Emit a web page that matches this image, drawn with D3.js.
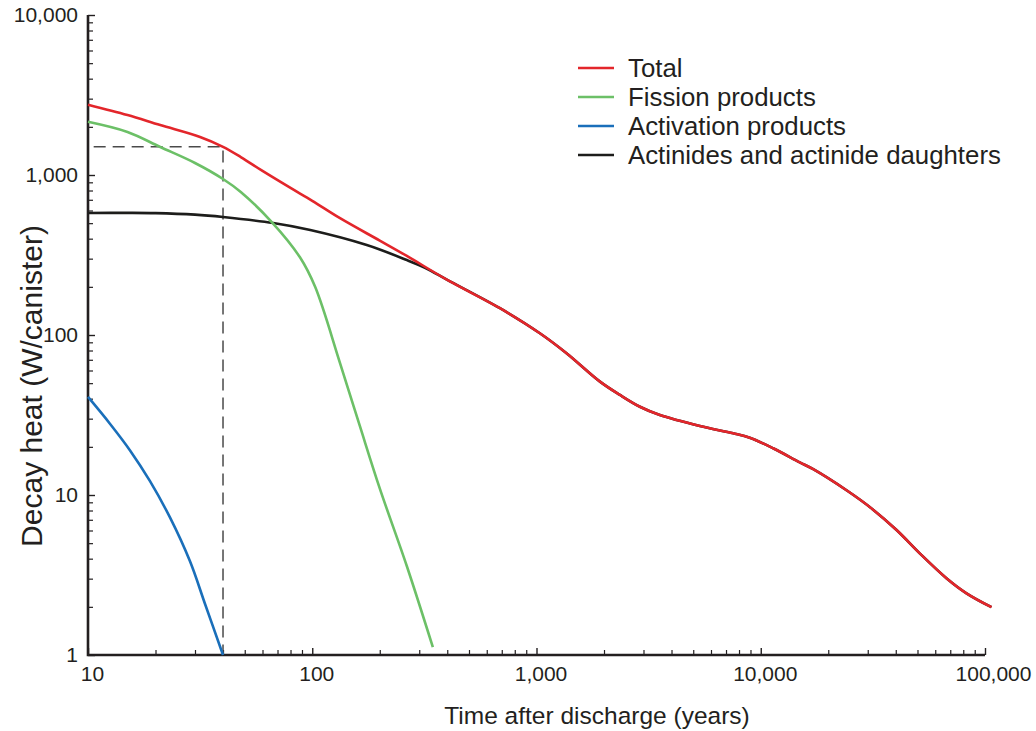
<!DOCTYPE html>
<html>
<head>
<meta charset="utf-8">
<script src="https://cdn.jsdelivr.net/npm/d3@7/dist/d3.min.js"></script>
<style>
  html, body { margin: 0; padding: 0; background: #fff; }
  svg { display: block; font-family: "Liberation Sans", Arial, Helvetica, sans-serif; }
</style>
</head>
<body>
<svg id="chart" width="1036" height="731"></svg>
<script>
// Decay heat per canister after discharge (log-log)
const totalYears   = [10, 15, 21, 31.6, 40, 48, 60, 80, 100, 133, 200, 264, 400, 687, 1035, 1361, 1919, 2355, 2892, 3549, 5352, 7534, 8930, 11350, 14930, 17140, 24130, 31700, 40330, 51170, 67300, 82700, 106900];
const totalHeat    = [2750, 2370, 2050, 1730, 1500, 1295, 1060, 830, 690, 537, 389, 312, 221, 147, 102.5, 76.9, 51.1, 42.2, 35.6, 31.6, 27.0, 24.3, 22.8, 19.6, 16.0, 14.5, 10.7, 8.1, 6.04, 4.32, 3.02, 2.43, 1.99];

const fissionYears = [10, 15, 21, 30, 40, 48, 66, 88, 103, 133, 163, 200, 264, 345];
const fissionHeat  = [2150, 1857, 1496, 1189, 944, 783, 508, 307, 200, 66.8, 27, 11, 3.6, 1.12];

const activationYears = [10, 12.5, 15.4, 18.9, 23.2, 28.5, 33.2, 40];
const activationHeat  = [41, 28, 19, 12.2, 7.24, 3.85, 2.1, 1];

const actinideYears = [10, 15, 20, 30, 40, 67, 98, 175, 264, 320, 400, 687, 1035, 1361, 1919, 2355, 2892, 3549, 5352, 7534, 8930, 11350, 14930, 17140, 24130, 31700, 40330, 51170, 67300, 82700, 106900];
const actinideHeat  = [579, 580, 578, 565, 546, 501, 453, 365, 294, 262, 221, 147, 102.5, 76.9, 51.1, 42.2, 35.6, 31.6, 27.0, 24.3, 22.8, 19.6, 16.0, 14.5, 10.7, 8.1, 6.04, 4.32, 3.02, 2.43, 1.99];

// Reference marker: ~1,500 W at 40 years
const markerYear = 40;
const markerHeat = 1500;

const xMajorTicks = [10, 100, 1000, 10000, 100000];
const yMajorTicks = [1, 10, 100, 1000, 10000];

const seriesNames  = ["Total", "Fission products", "Activation products", "Actinides and actinide daughters"];
const seriesColors = ["#e3262b", "#6cc067", "#1a6fba", "#1d1d1b"];

const svg = d3.select("#chart");
const x = d3.scaleLog().domain([10, 100000]).range([88, 985]);
const y = d3.scaleLog().domain([1, 10000]).range([655, 15]);

const minorOf = (majors) => {
  const out = [];
  for (let i = 0; i < majors.length - 1; i++)
    for (let k = 2; k <= 9; k++) out.push(majors[i] * k);
  return out;
};

const textColor = "#231f20";

// Minor ticks (inside)
svg.append("g").attr("transform", "translate(0,655)")
  .call(d3.axisBottom(x).tickValues(minorOf(xMajorTicks)).tickSize(-5).tickSizeOuter(0).tickFormat(""))
  .call(g => g.select(".domain").remove())
  .call(g => g.selectAll("line").attr("stroke", textColor).attr("stroke-width", 1.2));
svg.append("g").attr("transform", "translate(88,0)")
  .call(d3.axisLeft(y).tickValues(minorOf(yMajorTicks)).tickSize(-5).tickSizeOuter(0).tickFormat(""))
  .call(g => g.select(".domain").remove())
  .call(g => g.selectAll("line").attr("stroke", textColor).attr("stroke-width", 1.2));

// Major ticks and labels
const fmt = d3.format(",");
const xAxis = svg.append("g").attr("transform", "translate(0,655)")
  .call(d3.axisBottom(x).tickValues(xMajorTicks).tickSize(-7).tickSizeOuter(0).tickPadding(11).tickFormat(fmt));
xAxis.select(".domain").remove();
xAxis.selectAll("line").attr("stroke", textColor).attr("stroke-width", 1.4);
xAxis.selectAll("text").attr("font-size", 21).attr("fill", textColor)
  .attr("dx", d => d === 100000 ? 8 : 4);

const yAxis = svg.append("g").attr("transform", "translate(88,0)")
  .call(d3.axisLeft(y).tickValues(yMajorTicks).tickSize(-7).tickSizeOuter(0).tickPadding(10).tickFormat(fmt));
yAxis.select(".domain").remove();
yAxis.selectAll("line").attr("stroke", textColor).attr("stroke-width", 1.4);
yAxis.selectAll("text").attr("font-size", 21).attr("fill", textColor);

// Axis lines
svg.append("path")
  .attr("d", `M${x(10)},${y(10000)}V${y(1)}H${x(100000)}`)
  .attr("fill", "none").attr("stroke", textColor).attr("stroke-width", 2.6);

// Dashed marker lines
svg.append("path")
  .attr("d", `M${x(10.6)},${y(markerHeat)}H${x(markerYear)}V${y(1)}`)
  .attr("fill", "none").attr("stroke", "#4a4a4a").attr("stroke-width", 1.5)
  .attr("stroke-dasharray", "12,7");

// Curves
const line = d3.line().x(d => x(d[0])).y(d => y(d[1])).curve(d3.curveCatmullRom.alpha(0.5));
const zip = (a, b) => a.map((v, i) => [v, b[i]]);
const series = [
  { pts: zip(actinideYears, actinideHeat), color: seriesColors[3] },
  { pts: zip(activationYears, activationHeat), color: seriesColors[2] },
  { pts: zip(fissionYears, fissionHeat), color: seriesColors[1] },
  { pts: zip(totalYears, totalHeat), color: seriesColors[0] }
];
svg.append("g").selectAll("path").data(series).join("path")
  .attr("d", d => line(d.pts))
  .attr("fill", "none")
  .attr("stroke", d => d.color)
  .attr("stroke-width", 2.6)
  .attr("stroke-linejoin", "round");

// Legend
const legend = svg.append("g").selectAll("g").data(seriesNames).join("g")
  .attr("transform", (d, i) => `translate(578,${68 + i * 29})`);
legend.append("line").attr("x1", 0).attr("x2", 36).attr("y1", 0).attr("y2", 0)
  .attr("stroke", (d, i) => seriesColors[i]).attr("stroke-width", 2.6);
legend.append("text").attr("x", 50).attr("dy", "0.35em")
  .attr("font-size", 25.8).attr("fill", textColor).text(d => d);

// Axis titles
svg.append("text").attr("x", 597).attr("y", 724).attr("text-anchor", "middle")
  .attr("font-size", 24.5).attr("fill", textColor).text("Time after discharge (years)");
svg.append("text").attr("transform", "translate(42,386) rotate(-90)").attr("text-anchor", "middle")
  .attr("font-size", 30).attr("fill", textColor).text("Decay heat (W/canister)");
</script>
</body>
</html>
